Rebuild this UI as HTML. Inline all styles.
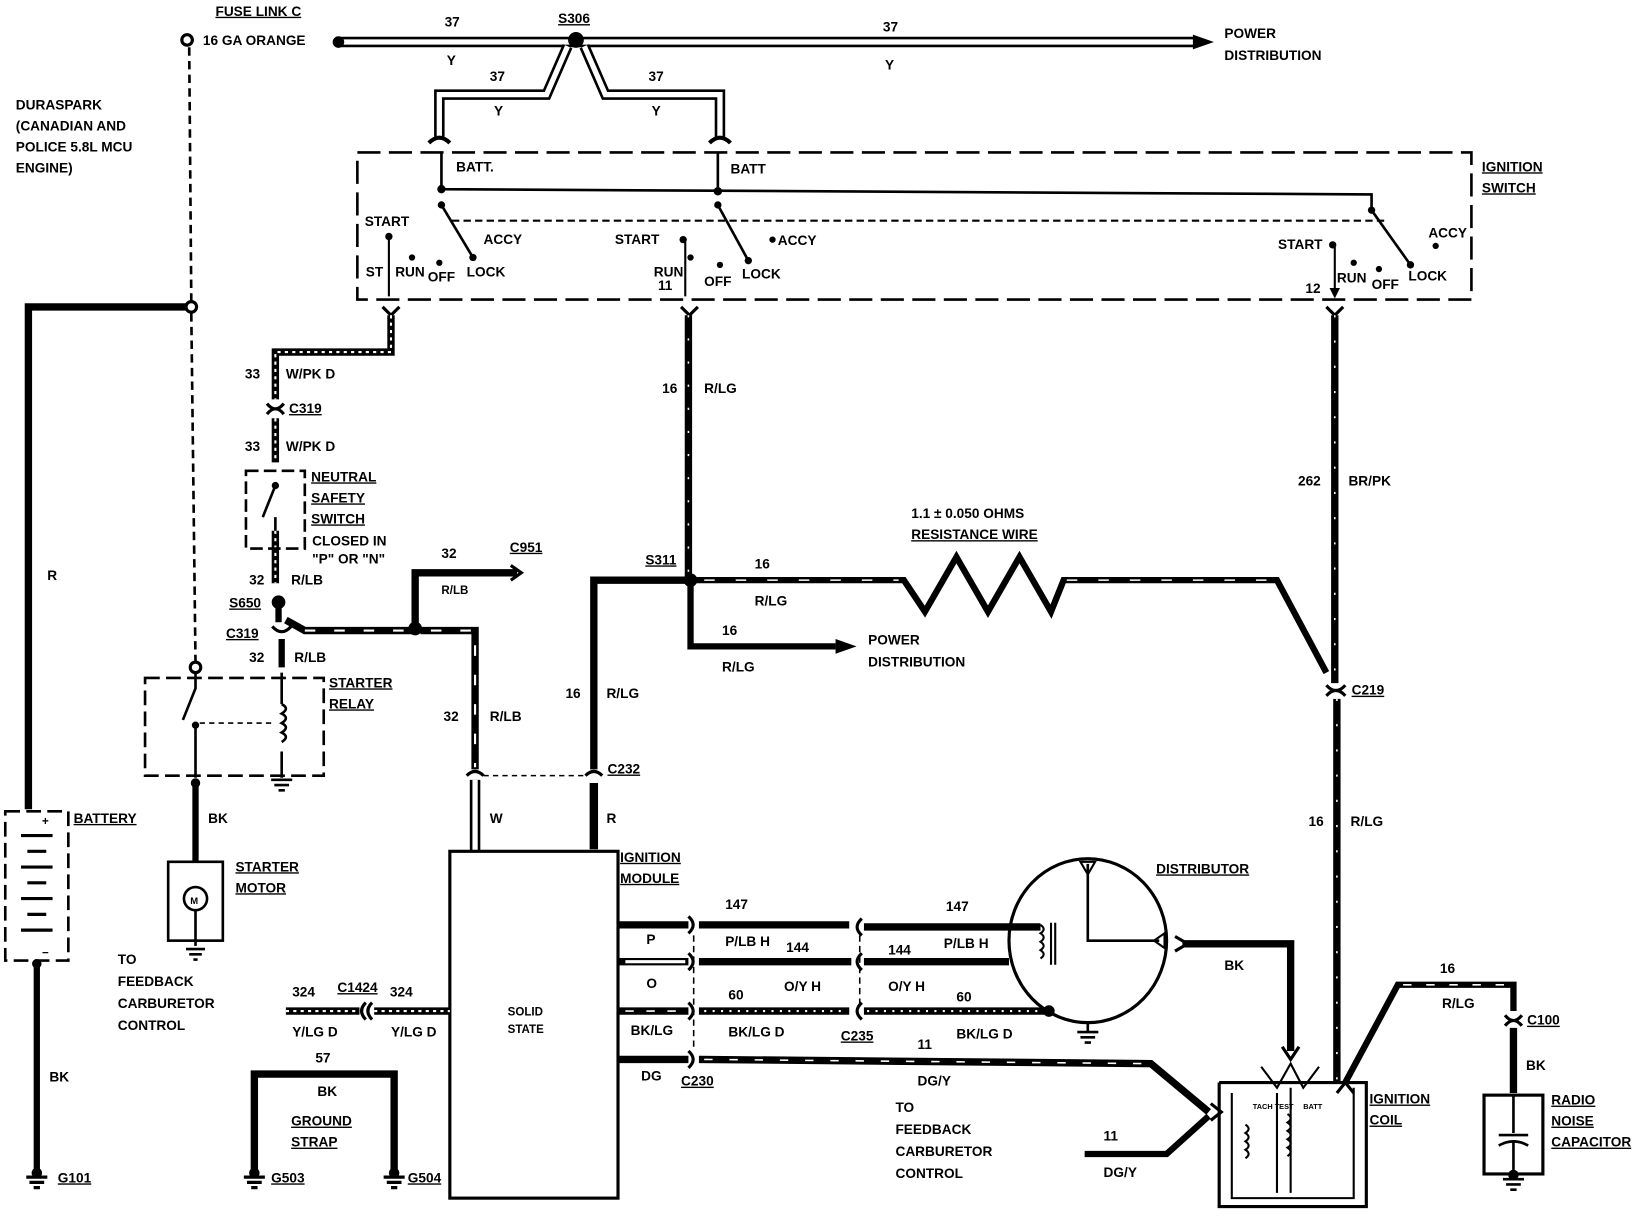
<!DOCTYPE html>
<html><head><meta charset="utf-8"><style>
html,body{margin:0;padding:0;background:#fff}
svg{display:block}
text{font-family:"Liberation Sans",sans-serif;font-weight:bold;font-size:13px;fill:#000}
.u{text-decoration:underline}
</style></head><body>
<svg width="1648" height="1216" viewBox="0 0 1568 1157" xmlns="http://www.w3.org/2000/svg">
<defs>
<marker id="ar" markerWidth="10" markerHeight="10" refX="8" refY="5" orient="auto" markerUnits="userSpaceOnUse"><path d="M0,0 L10,5 L0,10 z"/></marker>
</defs>
<g fill="none" stroke="#000" stroke-linejoin="miter">
<!-- top double wire -->
<path d="M320,40 H1140" stroke-width="10"/><path d="M326,40 H1140" stroke="#fff" stroke-width="5"/>
<path d="M1135,33 L1155,40 L1135,47 z" fill="#000" stroke="none"/>
<path d="M540,44 L520,90 H418 V130 M556,44 L576,90 H685 V130" stroke-width="10"/>
<path d="M540,44 L520,90 H418 V130 M556,44 L576,90 H685 V130" stroke="#fff" stroke-width="5"/>
<circle cx="548" cy="38" r="7" fill="#000"/>
<circle cx="322" cy="40" r="5" fill="#000"/>
<path d="M408,136 Q418,126 428,136 M675,136 Q685,126 695,136" stroke-width="4"/>
<!-- fuse link dashed -->
<circle cx="178" cy="38" r="5" stroke-width="3" fill="#fff"/>
<path d="M180,45 L182,287 M182,298 L186,630" stroke-width="2.5" stroke-dasharray="8,5"/>
<circle cx="182" cy="292" r="5" stroke-width="3" fill="#fff"/>
<circle cx="186" cy="635" r="5" stroke-width="3" fill="#fff"/>
<!-- battery wire -->
<path d="M177,292 H27 V770" stroke-width="7"/>
<path d="M35,915 V1115" stroke-width="6"/>
<rect x="5" y="772" width="60" height="142" stroke-width="2.5" stroke-dasharray="14,6"/>
<path d="M20,795 H50 M26,810 H44 M20,825 H50 M26,840 H44 M20,855 H50 M26,870 H44 M20,885 H50" stroke-width="3"/>
<circle cx="35" cy="917" r="4" fill="#000"/>
<!-- ignition switch box -->
<path d="M340,145 H1400 V285 H340 z" stroke-width="2.5" stroke-dasharray="22,8"/>
<path d="M420,145 V180 M420,180 L1305,185 V200 M683,145 V180" stroke-width="2.5"/>
<circle cx="420" cy="180" r="3.5" fill="#000"/><circle cx="683" cy="182" r="3.5" fill="#000"/>
<path d="M430,210 H1320" stroke-width="2" stroke-dasharray="7,4"/>
<path d="M420,195 L450,245 M683,195 L712,248 M1305,200 L1342,252" stroke-width="2.5"/>
<g fill="#000" stroke="none">
<circle cx="420" cy="195" r="3.5"/><circle cx="370" cy="225" r="3.5"/><circle cx="392" cy="245" r="3"/><circle cx="418" cy="250" r="3"/><circle cx="450" cy="245" r="3.5"/>
<circle cx="683" cy="195" r="3.5"/><circle cx="650" cy="228" r="3.5"/><circle cx="657" cy="245" r="3"/><circle cx="685" cy="252" r="3"/><circle cx="712" cy="248" r="3.5"/><circle cx="735" cy="228" r="3"/>
<circle cx="1305" cy="200" r="3.5"/><circle cx="1268" cy="233" r="3.5"/><circle cx="1288" cy="250" r="3"/><circle cx="1312" cy="256" r="3"/><circle cx="1342" cy="252" r="3.5"/><circle cx="1366" cy="234" r="3"/>
</g>
<path d="M370,225 V282 M652,230 V282 M1270,235 V282" stroke-width="2" marker-end="url(#ar)"/>
<path d="M364,292 L372,300 L380,292 M648,292 L656,300 L664,292 M1262,292 L1270,300 L1278,292" stroke-width="3"/>
<!-- W/PK D wire -->
<path d="M372,300 V335 H262 V380 M262,398 V440 M262,505 V555" stroke-width="7"/>
<path d="M372,300 V335 H262 V380 M262,398 V440 M262,505 V555" stroke="#fff" stroke-width="2" stroke-dasharray="3,4"/>
<path d="M254,384 Q262,394 270,384 M254,394 Q262,384 270,394" stroke-width="3"/>
<rect x="234" y="448" width="56" height="74" stroke-width="2.5" stroke-dasharray="12,5"/>
<path d="M262,462 L250,492 M262,505 V492" stroke-width="2.5"/>
<circle cx="262" cy="462" r="3" fill="#000"/>
<circle cx="265" cy="573" r="6" fill="#000"/>
<path d="M265,578 V592 M268,608 V635" stroke-width="6"/>
<path d="M259,596 Q268,606 277,596" stroke-width="3"/>
<path d="M272,590 L290,600 H395" stroke-width="7"/>
<path d="M290,600 H390" stroke="#fff" stroke-width="2" stroke-dasharray="10,18"/>
<circle cx="395" cy="598" r="6" fill="#000"/>
<path d="M395,598 V545 H492" stroke-width="7"/>
<path d="M486,538 L496,545 L486,552" stroke-width="3"/>
<path d="M400,600 H452 V732" stroke-width="7"/>
<path d="M410,600 H452 V730" stroke="#fff" stroke-width="2" stroke-dasharray="10,18"/>
<path d="M444,738 Q452,730 460,738 M557,738 Q565,730 573,738" stroke-width="3"/>
<path d="M460,738 H557" stroke-width="1.5" stroke-dasharray="5,4"/>
<path d="M452,742 V810" stroke-width="10"/><path d="M452,742 V810" stroke="#fff" stroke-width="5"/>
<!-- starter relay -->
<rect x="138" y="645" width="170" height="93" stroke-width="2.5" stroke-dasharray="14,6"/>
<path d="M186,640 V655 L174,685 M186,690 V740 M268,640 V670 M268,715 V740" stroke-width="2.5"/>
<path d="M268,670 q8,4 0,9 q8,4 0,9 q8,4 0,9 q8,4 0,9" stroke-width="2.5"/>
<path d="M190,688 H262" stroke-width="1.5" stroke-dasharray="5,4"/>
<circle cx="186" cy="690" r="3" fill="#000"/>
<path d="M258,742 H278 M261,747 H275 M265,752 H271" stroke-width="2.5"/>
<circle cx="186" cy="745" r="4" fill="#000"/>
<path d="M186,745 V820" stroke-width="6"/>
<rect x="160" y="820" width="52" height="75" stroke-width="2.5"/>
<circle cx="186" cy="855" r="11" stroke-width="2.5"/>
<path d="M186,866 V900" stroke-width="2.5"/>
<path d="M177,903 H195 M180,908 H192 M184,913 H188" stroke-width="2.5"/>
<!-- ignition module -->
<rect x="428" y="810" width="160" height="330" stroke-width="3"/>
<!-- S311 wires -->
<path d="M655,300 V552" stroke-width="7"/><path d="M655,300 V552" stroke="#fff" stroke-width="1.5" stroke-dasharray="2,20"/>
<path d="M657,552 H565 V732" stroke-width="7"/>
<path d="M565,745 V808" stroke-width="8"/>
<path d="M657,552 H860 L880,582 L910,530 L940,582 L970,530 L1000,582 L1012,552 H1215 L1262,640" stroke-width="6"/>
<path d="M670,552 H855 M1015,552 H1212" stroke="#fff" stroke-width="1.5" stroke-dasharray="10,20"/>
<path d="M657,552 V615 H795" stroke-width="6"/>
<path d="M795,608 L815,615 L795,622 z" fill="#000" stroke="none"/>
<circle cx="657" cy="552" r="6" fill="#000"/>
<!-- right vertical -->
<path d="M1270,300 V650 M1272,665 V1030" stroke-width="7"/>
<path d="M1270,300 V650 M1272,665 V1030" stroke="#fff" stroke-width="1.5" stroke-dasharray="2,22"/>
<path d="M1262,652 Q1271,662 1280,652 M1262,662 Q1271,652 1280,662" stroke-width="3"/>
<!-- module output wires -->
<path d="M588,880 H655 M665,880 H808 M822,882 H990" stroke-width="7"/>
<path d="M588,915 H655 M665,915 H810 M822,915 H960" stroke-width="7"/>
<path d="M595,915 H652" stroke="#fff" stroke-width="3"/>
<path d="M588,962 H655 M665,962 H808 M822,962 H995" stroke-width="7"/>
<path d="M670,962 H805 M825,962 H990" stroke="#fff" stroke-width="2" stroke-dasharray="2,6"/>
<path d="M595,962 H650" stroke="#fff" stroke-width="1.5" stroke-dasharray="8,12"/>
<path d="M588,1008 H655 M665,1008 L1095,1012 L1150,1058" stroke-width="7"/>
<path d="M670,1008 L1090,1012" stroke="#fff" stroke-width="1.5" stroke-dasharray="8,16"/>
<path d="M655,872 Q664,880 655,888 M655,907 Q664,915 655,923 M655,954 Q664,962 655,970 M655,1000 Q664,1008 655,1016" stroke-width="3"/>
<path d="M820,874 Q811,882 820,890 M820,907 Q811,915 820,923 M820,954 Q811,962 820,970" stroke-width="3"/>
<path d="M660,890 V1000 M818,890 V960" stroke-width="1.5" stroke-dasharray="6,4"/>
<circle cx="998" cy="962" r="5" fill="#000"/>
<!-- distributor -->
<ellipse cx="1035" cy="895" rx="75" ry="78" stroke-width="3"/>
<path d="M1035,822 V895 H1103" stroke-width="2.5"/>
<path d="M1028,820 L1042,820 L1035,832 z M1108,888 L1108,902 L1098,895 z" stroke-width="2"/>
<path d="M990,880 q6,4 0,8 q6,4 0,8 q6,4 0,8 q6,4 0,8 M1000,878 V918 M1004,878 V918" stroke-width="2"/>
<path d="M1035,973 V982 M1025,982 H1045 M1028,987 H1042 M1032,992 H1038" stroke-width="2.5"/>
<!-- BK to coil -->
<path d="M1125,898 H1228 V1000" stroke-width="7"/>
<path d="M1220,996 L1228,1008 L1236,996" stroke-width="3"/>
<path d="M1118,891 L1130,898 L1118,905" stroke-width="3"/>
<!-- ignition coil -->
<path d="M1160,1030 V1148 H1300 V1030 H1160" stroke-width="3"/>
<path d="M1172,1040 V1140 H1288 V1035" stroke-width="2"/>
<path d="M1200,1015 L1215,1035 L1228,1012 L1240,1035 L1255,1015" stroke-width="2"/>
<path d="M1185,1070 q6,4 0,8 q6,4 0,8 q6,4 0,8 q6,4 0,8 M1225,1060 q6,4 0,8 q6,4 0,8 q6,4 0,8 q6,4 0,8 q6,4 0,8" stroke-width="2"/>
<path d="M1215,1040 V1135 M1228,1035 V1135" stroke-width="2"/>
<path d="M1152,1050 L1162,1058 L1152,1066 M1272,1040 L1280,1030 L1288,1040" stroke-width="3"/>
<path d="M1032,1098 H1110 L1150,1062" stroke-width="6"/>
<!-- capacitor wire -->
<path d="M1280,1030 L1330,937 H1440 V962" stroke-width="6"/>
<path d="M1335,937 H1435" stroke="#fff" stroke-width="1.5" stroke-dasharray="8,14"/>
<path d="M1432,966 Q1440,976 1448,966 M1432,976 Q1440,966 1448,976" stroke-width="3"/>
<path d="M1440,978 V1040" stroke-width="7"/>
<rect x="1412" y="1042" width="56" height="75" stroke-width="3"/>
<path d="M1440,1042 V1078 M1426,1080 H1454 M1426,1090 Q1440,1082 1454,1090 M1440,1086 V1120" stroke-width="2.5"/>
<path d="M1430,1122 H1450 M1433,1127 H1447 M1437,1132 H1443" stroke-width="2.5"/>
<!-- 324 wire -->
<path d="M272,962 H342 M356,962 H428" stroke-width="7"/>
<path d="M272,962 H342 M356,962 H428" stroke="#fff" stroke-width="2" stroke-dasharray="3,4"/>
<path d="M348,954 Q340,962 348,970 M354,954 Q346,962 354,970" stroke-width="3"/>
<!-- ground strap -->
<path d="M242,1115 V1022 H375 V1115" stroke-width="7"/>
<g stroke-width="3">
<path d="M232,1120 H252 M235,1125 H249 M239,1130 H245 M365,1120 H385 M368,1125 H382 M372,1130 H378 M25,1120 H45 M28,1125 H42 M32,1130 H38"/>
</g>
<g fill="#000" stroke="none"><circle cx="242" cy="1116" r="5"/><circle cx="375" cy="1116" r="5"/><circle cx="35" cy="1116" r="5"/><circle cx="1440" cy="1118" r="5"/></g>
</g>
<!-- text -->
<text x="205" y="15" class="u">FUSE LINK C</text>
<text x="193" y="43">16 GA ORANGE</text>
<text x="423" y="25">37</text><text x="425" y="62">Y</text>
<text x="531" y="22" class="u">S306</text>
<text x="840" y="30">37</text><text x="842" y="66">Y</text>
<text x="1165" y="36">POWER</text><text x="1165" y="57">DISTRIBUTION</text>
<text x="466" y="77">37</text><text x="470" y="110">Y</text>
<text x="617" y="77">37</text><text x="620" y="110">Y</text>
<text x="15" y="104">DURASPARK</text><text x="15" y="124">(CANADIAN AND</text><text x="15" y="144">POLICE 5.8L MCU</text><text x="15" y="164">ENGINE)</text>
<text x="1410" y="163" class="u">IGNITION</text><text x="1410" y="183" class="u">SWITCH</text>
<g style="font-size:11px">
<text x="434" y="163">BATT.</text><text x="695" y="165">BATT</text>
<text x="347" y="215">START</text><text x="460" y="232">ACCY</text>
<text x="348" y="263">ST</text><text x="376" y="263">RUN</text><text x="407" y="268">OFF</text><text x="444" y="263">LOCK</text>
<text x="585" y="232">START</text><text x="740" y="233">ACCY</text>
<text x="622" y="263">RUN</text><text x="626" y="276">11</text><text x="670" y="272">OFF</text><text x="706" y="265">LOCK</text>
<text x="1216" y="237">START</text><text x="1359" y="226">ACCY</text>
<text x="1272" y="269">RUN</text><text x="1305" y="275">OFF</text><text x="1340" y="267">LOCK</text><text x="1242" y="279">12</text>
<text x="297" y="519">CLOSED IN</text><text x="297" y="536">"P" OR "N"</text>
<text x="1192" y="1055" style="font-size:7px">TACH TEST</text><text x="1240" y="1055" style="font-size:7px">BATT</text>
</g>
<text x="45" y="552">R</text>
<text x="233" y="360">33</text><text x="272" y="360">W/PK D</text>
<text x="275" y="393" class="u">C319</text>
<text x="233" y="429">33</text><text x="272" y="429">W/PK D</text>
<text x="296" y="458" class="u">NEUTRAL</text><text x="296" y="478" class="u">SAFETY</text><text x="296" y="498" class="u">SWITCH</text>
<text x="237" y="556">32</text><text x="277" y="556">R/LB</text>
<text x="218" y="578" class="u">S650</text>
<text x="215" y="607" class="u">C319</text>
<text x="237" y="630">32</text><text x="280" y="630">R/LB</text>
<text x="313" y="654" class="u">STARTER</text><text x="313" y="674" class="u">RELAY</text>
<text x="420" y="531">32</text><text x="485" y="525" class="u">C951</text>
<text x="420" y="565" style="font-size:11px">R/LB</text>
<text x="422" y="686">32</text><text x="466" y="686">R/LB</text>
<text x="466" y="783">W</text><text x="577" y="783">R</text>
<text x="578" y="736" class="u">C232</text>
<text x="538" y="664">16</text><text x="577" y="664">R/LG</text>
<text x="614" y="537" class="u">S311</text>
<text x="630" y="374">16</text><text x="670" y="374">R/LG</text>
<text x="718" y="541">16</text><text x="718" y="576">R/LG</text>
<text x="687" y="604">16</text><text x="687" y="639">R/LG</text>
<text x="826" y="613">POWER</text><text x="826" y="634">DISTRIBUTION</text>
<text x="867" y="493">1.1 ± 0.050 OHMS</text><text x="867" y="513" class="u">RESISTANCE WIRE</text>
<text x="1235" y="462">262</text><text x="1283" y="462">BR/PK</text>
<text x="1286" y="661" class="u">C219</text>
<text x="1245" y="786">16</text><text x="1285" y="786">R/LG</text>
<text x="70" y="783" class="u">BATTERY</text>
<text x="40" y="785" style="font-size:11px">+</text><text x="40" y="910" style="font-size:11px">−</text>
<text x="198" y="783">BK</text>
<text x="224" y="829" class="u">STARTER</text><text x="224" y="849" class="u">MOTOR</text>
<text x="181" y="860" style="font-size:9px">M</text>
<text x="112" y="917">TO</text><text x="112" y="938">FEEDBACK</text><text x="112" y="959">CARBURETOR</text><text x="112" y="980">CONTROL</text>
<text x="47" y="1029">BK</text>
<text x="30" y="1125" class="u" transform="translate(25,0)">G101</text>
<text x="278" y="948">324</text><text x="321" y="944" class="u">C1424</text><text x="371" y="948">324</text>
<text x="278" y="986">Y/LG D</text><text x="372" y="986">Y/LG D</text>
<text x="300" y="1011">57</text><text x="302" y="1043">BK</text>
<text x="277" y="1071" class="u">GROUND</text><text x="277" y="1091" class="u">STRAP</text>
<text x="258" y="1125" class="u">G503</text><text x="388" y="1125" class="u">G504</text>
<text x="483" y="966" style="font-size:11px">SOLID</text><text x="483" y="983" style="font-size:11px">STATE</text>
<text x="590" y="820" class="u">IGNITION</text><text x="590" y="840" class="u">MODULE</text>
<text x="690" y="865">147</text><text x="900" y="867">147</text>
<text x="615" y="898">P</text><text x="690" y="900">P/LB H</text><text x="748" y="906">144</text>
<text x="845" y="908">144</text><text x="898" y="902">P/LB H</text>
<text x="615" y="940">O</text><text x="746" y="943">O/Y H</text><text x="845" y="943">O/Y H</text>
<text x="693" y="951">60</text><text x="910" y="953">60</text>
<text x="600" y="985">BK/LG</text><text x="693" y="986">BK/LG D</text><text x="910" y="988">BK/LG D</text>
<text x="800" y="990" class="u">C235</text><text x="873" y="998">11</text>
<text x="610" y="1028">DG</text><text x="648" y="1033" class="u">C230</text>
<text x="873" y="1033">DG/Y</text>
<text x="852" y="1058">TO</text><text x="852" y="1079">FEEDBACK</text><text x="852" y="1100">CARBURETOR</text><text x="852" y="1121">CONTROL</text>
<text x="1100" y="831" class="u">DISTRIBUTOR</text>
<text x="1165" y="923">BK</text>
<text x="1050" y="1085">11</text><text x="1050" y="1120">DG/Y</text>
<text x="1303" y="1050" class="u">IGNITION</text><text x="1303" y="1070" class="u">COIL</text>
<text x="1370" y="926">16</text><text x="1372" y="959">R/LG</text>
<text x="1453" y="975" class="u">C100</text>
<text x="1452" y="1018">BK</text>
<text x="1476" y="1051" class="u">RADIO</text><text x="1476" y="1071" class="u">NOISE</text><text x="1476" y="1091" class="u">CAPACITOR</text>
</svg>
</body></html>
